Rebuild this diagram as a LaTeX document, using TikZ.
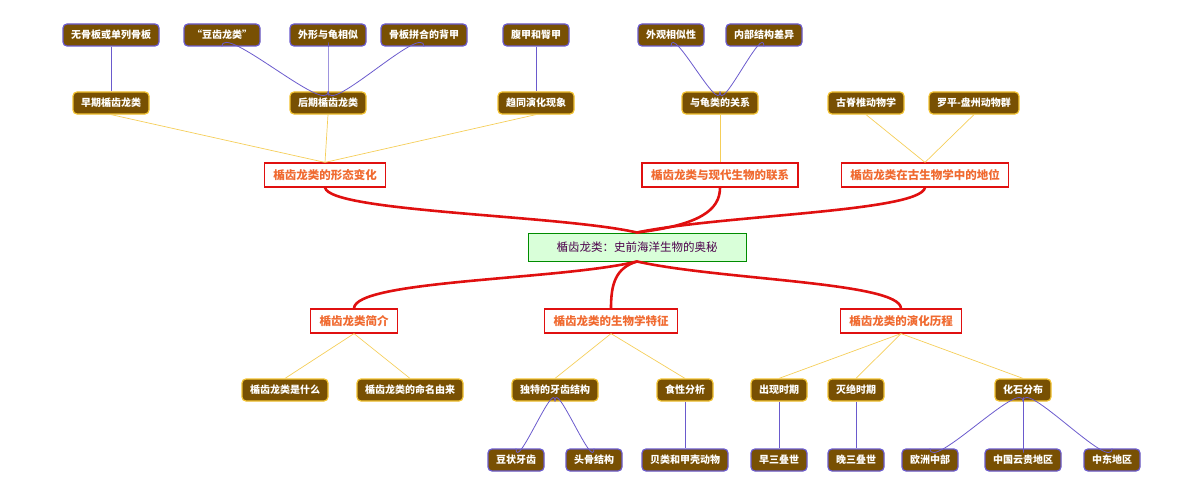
\documentclass[tikz,border=0pt]{standalone}
\usepackage{fontspec}
\setmainfont{Noto Sans CJK SC}
\begin{document}
\begin{tikzpicture}[x=1pt,y=-1pt,
  leaf/.style={draw=#1,line width=1.2pt,fill=leafbrown,rounded corners=4pt,text=white,font=\bfseries\fontsize{10}{12}\selectfont,minimum height=22pt,inner xsep=8pt},
  leaf/.default=purp,
  mid/.style={leaf=goldc},
  main/.style={draw=redc,line width=1.2pt,fill=white,text=orangec,font=\bfseries\fontsize{11.5}{13}\selectfont,minimum height=24pt,inner xsep=9pt},
  pe/.style={draw=purp,line width=0.8pt},
  ge/.style={draw=goldc!80,line width=0.7pt},
  re/.style={draw=redc,line width=2.6pt,line cap=round}]
\definecolor{leafbrown}{HTML}{785003}
\definecolor{purp}{HTML}{6A5ACD}
\definecolor{goldc}{HTML}{F2C230}
\definecolor{redc}{HTML}{E01010}
\definecolor{orangec}{HTML}{F06A30}
\useasboundingbox (0,0) rectangle (1200,495);
% center
\node[draw=green!55!black,fill=green!15!white,line width=1pt,minimum height=28pt,minimum width=218pt,text=violet!60!black,font=\fontsize{11.5}{13}\selectfont] (c) at (637,247) {楯齿龙类：史前海洋生物的奥秘};
% level 1
\node[main] (m1) at (325,175) {楯齿龙类的形态变化};
\node[main] (m2) at (720,175) {楯齿龙类与现代生物的联系};
\node[main] (m3) at (925,175) {楯齿龙类在古生物学中的地位};
\node[main] (b1) at (354,321) {楯齿龙类简介};
\node[main] (b2) at (611,321) {楯齿龙类的生物学特征};
\node[main] (b3) at (901,321) {楯齿龙类的演化历程};
% top level 2
\node[mid] (a1) at (111,103) {早期楯齿龙类};
\node[mid] (a2) at (328,103) {后期楯齿龙类};
\node[mid] (a3) at (536,103) {趋同演化现象};
\node[mid] (a4) at (720,103) {与龟类的关系};
\node[mid] (a5) at (866,103) {古脊椎动物学};
\node[mid] (a6) at (974,103) {罗平-盘州动物群};
% top leaves
\node[leaf] (t1) at (111,35) {无骨板或单列骨板};
\node[leaf] (t2) at (222,35) {“豆齿龙类”};
\node[leaf] (t3) at (328,35) {外形与龟相似};
\node[leaf] (t4) at (424,35) {骨板拼合的背甲};
\node[leaf] (t5) at (536,35) {腹甲和臀甲};
\node[leaf] (t6) at (671,35) {外观相似性};
\node[leaf] (t7) at (764,35) {内部结构差异};
% bottom level 2
\node[mid] (d1) at (285,390) {楯齿龙类是什么};
\node[mid] (d2) at (410,390) {楯齿龙类的命名由来};
\node[mid] (d3) at (555,390) {独特的牙齿结构};
\node[mid] (d4) at (685,390) {食性分析};
\node[mid] (d5) at (779,390) {出现时期};
\node[mid] (d6) at (856,390) {灭绝时期};
\node[mid] (d7) at (1023,390) {化石分布};
% bottom leaves
\node[leaf] (e1) at (516,460) {豆状牙齿};
\node[leaf] (e2) at (594,460) {头骨结构};
\node[leaf] (e3) at (685,460) {贝类和甲壳动物};
\node[leaf] (e4) at (779,460) {早三叠世};
\node[leaf] (e5) at (856,460) {晚三叠世};
\node[leaf] (e6) at (930,460) {欧洲中部};
\node[leaf] (e7) at (1023,460) {中国云贵地区};
\node[leaf] (e8) at (1112,460) {中东地区};
% red connectors
\begin{scope}[on background layer/.style={}]
\draw[re] (c.north) .. controls (560,215) and (330,212) .. (m1.south);
\draw[re] (c.north) .. controls (700,225) and (720,210) .. (m2.south);
\draw[re] (c.north) .. controls (720,215) and (920,212) .. (m3.south);
\draw[re] (c.south) .. controls (560,280) and (355,280) .. (b1.north);
\draw[re] (c.south) .. controls (615,268) and (611,285) .. (b2.north);
\draw[re] (c.south) .. controls (720,280) and (900,282) .. (b3.north);
\end{scope}
% gold connectors
\foreach \n in {a1,a2,a3} \draw[ge] (\n.south) -- (m1.north);
\draw[ge] (a4.south) -- (m2.north);
\foreach \n in {a5,a6} \draw[ge] (\n.south) -- (m3.north);
\foreach \n in {d1,d2} \draw[ge] (\n.north) -- (b1.south);
\foreach \n in {d3,d4} \draw[ge] (\n.north) -- (b2.south);
\foreach \n in {d5,d6,d7} \draw[ge] (\n.north) -- (b3.south);
% purple connectors
\draw[pe] (t1.south) -- (a1.north);
\draw[pe] (t5.south) -- (a3.north);
\foreach \n in {t2,t3,t4} \draw[pe] (\n.south) .. controls ([yshift=25]\n.south) and ([yshift=-25]a2.north) .. (a2.north);
\foreach \n in {t6,t7} \draw[pe] (\n.south) .. controls ([yshift=25]\n.south) and ([yshift=-25]a4.north) .. (a4.north);
\foreach \n in {e1,e2} \draw[pe] (d3.south) .. controls ([yshift=25]d3.south) and ([yshift=-25]\n.north) .. (\n.north);
\draw[pe] (d4.south) -- (e3.north);
\draw[pe] (d5.south) -- (e4.north);
\draw[pe] (d6.south) -- (e5.north);
\foreach \n in {e6,e7,e8} \draw[pe] (d7.south) .. controls ([yshift=25]d7.south) and ([yshift=-25]\n.north) .. (\n.north);
\end{tikzpicture}
\end{document}
